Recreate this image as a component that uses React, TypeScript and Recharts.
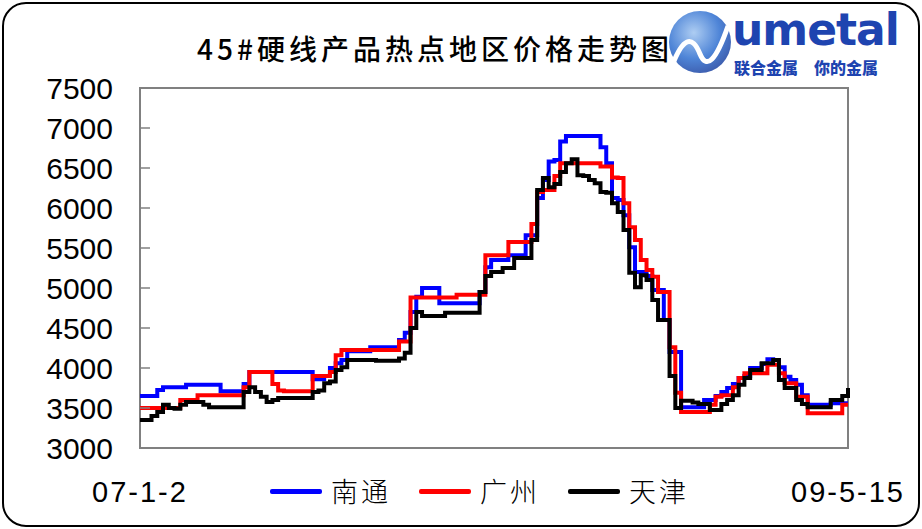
import React from 'react';
import { LineChart, Line, XAxis, YAxis, ReferenceArea, Legend } from 'recharts';

const weekIndex: number[] = Array.from({ length: 124 }, (_, i) => i);
const xTickLabels = ['07-1-2', '09-5-15'];
const yTicks = [3000, 3500, 4000, 4500, 5000, 5500, 6000, 6500, 7000, 7500];
const seriesNames = ['南通', '广州', '天津'];
const seriesColors = ['#0000ff', '#ff0000', '#000000'];

const nantong = [
  3650, 3650, 3650, 3725, 3760, 3760, 3760, 3760, 3790, 3790,
  3790, 3790, 3790, 3790, 3710, 3710, 3710, 3710, 3800, 3950,
  3950, 3950, 3950, 3950, 3950, 3950, 3950, 3950, 3950, 3950,
  3860, 3860, 3900, 4000, 4060, 4100, 4210, 4210, 4210, 4210,
  4260, 4260, 4260, 4260, 4260, 4350, 4440, 4700, 4890, 5000,
  5000, 5000, 4810, 4810, 4810, 4810, 4810, 4810, 4810, 4950,
  5260, 5350, 5350, 5350, 5410, 5410, 5410, 5660, 5660, 6125,
  6350, 6580, 6600, 6830, 6900, 6900, 6900, 6900, 6900, 6900,
  6760, 6560, 6125, 6100, 5910, 5510, 5200, 5200, 5150, 4975,
  4975, 4600, 4200, 4200, 3510, 3510, 3510, 3510, 3600, 3600,
  3650, 3700, 3750, 3800, 3875, 3900, 4000, 4000, 4050, 4110,
  4100, 4010, 3890, 3850, 3790, 3660, 3540, 3540, 3540, 3540,
  3560, 3560, 3560, 3560,
];

const guangzhou = [
  3500, 3500, 3500, 3500, 3500, 3500, 3500, 3600, 3600, 3600,
  3660, 3660, 3660, 3660, 3660, 3660, 3660, 3660, 3760, 3950,
  3950, 3950, 3950, 3800, 3720, 3710, 3710, 3710, 3710, 3710,
  3900, 3900, 3900, 3950, 4160, 4225, 4225, 4225, 4225, 4225,
  4225, 4225, 4225, 4225, 4225, 4330, 4330, 4880, 4880, 4880,
  4880, 4880, 4880, 4880, 4880, 4915, 4915, 4915, 4915, 4915,
  5410, 5410, 5410, 5410, 5575, 5575, 5575, 5575, 5800, 6200,
  6225, 6225, 6400, 6560, 6560, 6560, 6560, 6560, 6560, 6560,
  6520, 6520, 6380, 6375, 6060, 5760, 5600, 5350, 5225, 5140,
  4950, 4950, 4260, 3690, 3450, 3450, 3450, 3450, 3450, 3540,
  3640, 3660, 3660, 3760, 3875, 3935, 3935, 3935, 3935, 4040,
  4040, 3935, 3810, 3810, 3640, 3640, 3435, 3435, 3435, 3435,
  3435, 3435, 3540, 3540,
];

const tianjin = [
  3350, 3350, 3400, 3450, 3540, 3500, 3490, 3540, 3575, 3575,
  3575, 3540, 3510, 3510, 3510, 3510, 3510, 3510, 3700, 3760,
  3700, 3640, 3575, 3600, 3625, 3625, 3625, 3625, 3625, 3625,
  3700, 3720, 3810, 3830, 3975, 4010, 4100, 4100, 4100, 4100,
  4100, 4090, 4090, 4090, 4090, 4120, 4190, 4500, 4700, 4650,
  4650, 4650, 4650, 4690, 4690, 4690, 4690, 4690, 4690, 4950,
  5150, 5200, 5200, 5250, 5250, 5375, 5375, 5375, 5600, 6225,
  6375, 6260, 6300, 6450, 6560, 6610, 6410, 6400, 6350, 6310,
  6200, 6190, 6060, 5950, 5725, 5190, 5010, 5160, 5100, 4850,
  4600, 4600, 3900, 3500, 3590, 3590, 3570, 3550, 3550, 3475,
  3475, 3550, 3600, 3660, 3790, 3875, 3975, 3975, 4060, 4060,
  4100, 3850, 3750, 3750, 3600, 3550, 3510, 3510, 3510, 3510,
  3600, 3600, 3650, 3750,
];

const data = weekIndex.map((w, i) => ({
  w,
  nantong: nantong[i],
  guangzhou: guangzhou[i],
  tianjin: tianjin[i],
}));

const lastWeek = weekIndex[weekIndex.length - 1];

const XTick = (props: any) => {
  const { x, y, payload } = props;
  const label = payload.value === 0 ? xTickLabels[0] : xTickLabels[1];
  return (
    <text
      x={x}
      y={y + 44}
      textAnchor="middle"
      dominantBaseline="central"
      fontFamily="'Liberation Sans', Arial, sans-serif"
      fontSize={29}
      letterSpacing={2}
      fill="#000"
    >
      {label}
    </text>
  );
};

const LegendContent = (props: any) => {
  const payload = [...(props.payload || [])].sort(
    (a: any, b: any) => seriesNames.indexOf(a.value) - seriesNames.indexOf(b.value)
  );
  return (
    <div style={{ display: 'flex', alignItems: 'center' }}>
      {payload.map((p: any, i: number) => (
        <div key={i} style={{ display: 'flex', alignItems: 'center', marginRight: 28 }}>
          <div style={{ width: 52, height: 5, background: p.color, borderRadius: 2 }} />
          <span
            style={{
              marginLeft: 9,
              fontFamily: "'Noto Sans CJK SC', sans-serif",
              fontWeight: 300,
              fontSize: 27,
              letterSpacing: 3,
              color: '#000',
              lineHeight: '30px',
            }}
          >
            {p.value}
          </span>
        </div>
      ))}
    </div>
  );
};

export default function App() {
  return (
    <div style={{ position: 'absolute', left: 0, top: 0, width: 922, height: 529, background: '#fff', overflow: 'hidden' }}>
      <div
        style={{
          position: 'absolute',
          left: 2,
          top: 2,
          width: 914,
          height: 521,
          border: '2px solid #000',
          borderRadius: 24,
        }}
      />
      <div
        style={{
          position: 'absolute',
          left: 197,
          top: 29,
          fontFamily: "'Noto Sans CJK SC', sans-serif",
          fontWeight: 500,
          fontSize: 28,
          letterSpacing: 4,
          color: '#000',
          whiteSpace: 'nowrap',
          lineHeight: '38px',
        }}
      >
        45#硬线产品热点地区价格走势图
      </div>
      <svg style={{ position: 'absolute', left: 660, top: 4 }} width={262} height={80}>
        <defs>
          <radialGradient id="orb" cx="40%" cy="35%" r="70%">
            <stop offset="0%" stopColor="#9fc4f0" />
            <stop offset="60%" stopColor="#2f6fd0" />
            <stop offset="100%" stopColor="#1a3f9e" />
          </radialGradient>
        </defs>
        <circle cx={40} cy={38} r={31} fill="url(#orb)" opacity={0.85} />
        <path d="M12 62 Q28 20 40 50 Q50 74 68 22" stroke="#fff" strokeWidth={5} fill="none" />
        <text x={72} y={41} fontFamily="'DejaVu Sans', sans-serif" fontWeight={900} fontSize={44} fill="#1e44b0" letterSpacing={-1}>
          umetal
        </text>
        <text x={74} y={70} fontFamily="'Noto Sans CJK SC', sans-serif" fontWeight={900} fontSize={16} fill="#1e44b0">
          联合金属　你的金属
        </text>
      </svg>
      <LineChart
        width={922}
        height={529}
        data={data}
        margin={{ top: 88, right: 74, bottom: 1, left: 80 }}
        style={{ position: 'absolute', left: 0, top: 0 }}
      >
        <ReferenceArea x1={0} x2={lastWeek} y1={3000} y2={7500} fill="none" stroke="#808080" strokeWidth={2} ifOverflow="extendDomain" />
        <XAxis
          dataKey="w"
          type="number"
          domain={[0, lastWeek]}
          ticks={[0, lastWeek]}
          interval={0}
          height={50}
          axisLine={false}
          tickLine={false}
          tickSize={0}
          tickMargin={0}
          tick={<XTick />}
        />
        <YAxis
          domain={[3000, 7500]}
          ticks={yTicks}
          interval={0}
          width={60}
          axisLine={false}
          tickSize={-10}
          tickMargin={37}
          tickLine={{ stroke: '#808080', strokeWidth: 1.5 }}
          tick={{ fontFamily: "'Liberation Sans', Arial, sans-serif", fontSize: 30, fill: '#000' }}
        />
        <Legend
          content={<LegendContent />}
          wrapperStyle={{ position: 'absolute', left: 270, top: 476, width: 'auto' }}
        />
        <Line type="stepAfter" dataKey="nantong" name={seriesNames[0]} stroke={seriesColors[0]} strokeWidth={4} dot={false} isAnimationActive={false} />
        <Line type="stepAfter" dataKey="guangzhou" name={seriesNames[1]} stroke={seriesColors[1]} strokeWidth={4} dot={false} isAnimationActive={false} />
        <Line type="stepAfter" dataKey="tianjin" name={seriesNames[2]} stroke={seriesColors[2]} strokeWidth={4} dot={false} isAnimationActive={false} />
      </LineChart>
    </div>
  );
}
